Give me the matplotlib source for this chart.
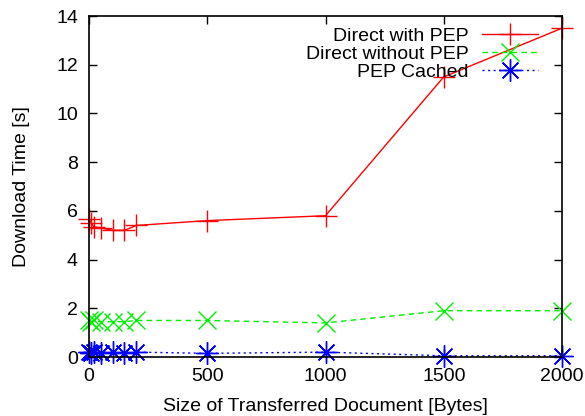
import matplotlib.pyplot as plt

plt.rcParams['font.family'] = ['Liberation Sans', 'DejaVu Sans']
plt.rcParams['font.size'] = 14

size = [0, 10, 20, 50, 100, 150, 200, 500, 1000, 1500, 2000]
direct_pep = [5.65, 5.5, 5.35, 5.3, 5.2, 5.2, 5.4, 5.6, 5.8, 11.5, 13.5]
direct_nopep = [1.5, 1.45, 1.5, 1.45, 1.45, 1.45, 1.5, 1.5, 1.4, 1.9, 1.9]
pep_cached = [0.2, 0.15, 0.2, 0.15, 0.2, 0.15, 0.2, 0.15, 0.2, 0.05, 0.05]

fig = plt.figure(figsize=(5.85, 4.16), dpi=100)
ax = fig.add_axes([89 / 585, 1 - 357 / 416, (562 - 89) / 585, (357 - 16) / 416])

ax.plot(size, direct_pep, label='Direct with PEP', color='#ff0000', linestyle='-',
        linewidth=1.0, marker='+', markersize=16, markeredgewidth=1.0, clip_on=False)
ax.plot(size, direct_nopep, label='Direct without PEP', color='#00ee00', linestyle=(0, (4, 3)),
        linewidth=1.0, marker='x', markersize=13, markeredgewidth=1.0, clip_on=False)
ax.plot(size, pep_cached, label='PEP Cached', color='#0000ff', linestyle=(0, (1.5, 2.5)),
        linewidth=1.0, marker=(8, 2, 0), markersize=16, markeredgewidth=1.0, clip_on=False)

ax.set_xlim(0, 2000)
ax.set_ylim(0, 14)
ax.set_xticks([0, 500, 1000, 1500, 2000])
ax.set_yticks(range(0, 15, 2))
ax.tick_params(direction='in', top=True, right=True, length=6, width=1, pad=8)
for s in ax.spines.values():
    s.set_linewidth(1.2)

ax.set_xlabel('Size of Transferred Document [Bytes]', labelpad=9)
ax.set_ylabel('Download Time [s]', labelpad=19)

ax.legend(loc='upper right', frameon=False, markerfirst=False, handlelength=2.85,
          labelspacing=0.02, handletextpad=0.7, borderaxespad=0.2,
          bbox_to_anchor=(0.973, 1.0))
for t in ax.get_legend().get_texts():
    t.set_ha('right')

fig.savefig('out.png', dpi=100)
